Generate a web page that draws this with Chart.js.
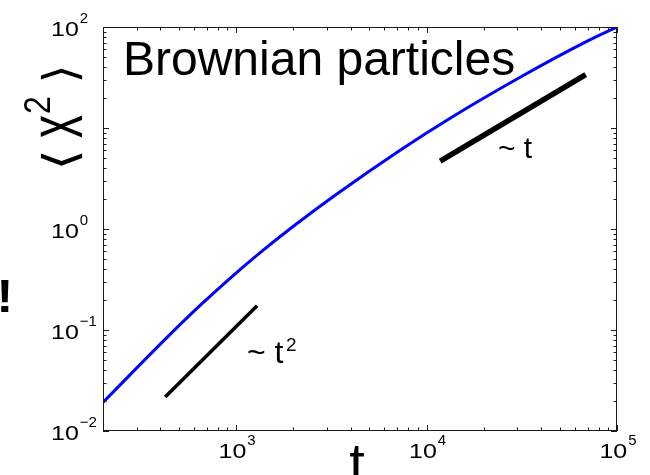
<!DOCTYPE html>
<html>
<head>
<meta charset="utf-8">
<script src="https://cdn.jsdelivr.net/npm/chart.js@4.4.1/dist/chart.umd.min.js"></script>
<style>
    html, body { margin: 0; padding: 0; background: #fff; }
    #wrap { width: 650px; height: 475px; position: relative; }
</style>
</head>
<body>
<div id="wrap"><canvas id="chart"></canvas></div>
<script>
// ==================== 数据 ====================
const timeValues = [200, 434, 647, 929, 1304, 1967, 3310, 7265, 13300, 31000, 69800, 100000]
const msdValues = [0.0192, 0.0845, 0.175, 0.325, 0.561, 1.04, 2.16, 6.03, 12.5, 31.8, 72.4, 100]

// 参考斜率线
const ballisticTime = [424, 1289]
const ballisticMsd = [0.0217, 0.1734]
const diffusiveTime = [11800, 68500]
const diffusiveMsd = [4.69, 33.7]

const xRange = [200, 1e5]
const yRange = [1e-2, 1e2]
const xTickExps = ['3', '4', '5']
const yTickExps = ['\u22122', '\u22121', '0', '2']

const titleText = 'Brownian particles'
const FONT = '"Liberation Sans", Arial, Helvetica, sans-serif'

const toPoints = (xs, ys) => xs.map((x, i) => ({ x, y: ys[i] }))

// 对数刻度：1..9 × 10^n
const logTicks = (scale) => {
    const ticks = []
    const lo = Math.floor(Math.log10(scale.min))
    const hi = Math.ceil(Math.log10(scale.max))
    for (let d = lo; d <= hi; d++) {
        for (let m = 1; m <= 9; m++) {
            const v = m * Math.pow(10, d)
            if (v >= scale.min * 0.999 && v <= scale.max * 1.001) ticks.push({ value: v, major: m === 1, exp: d })
        }
    }
    return ticks
}

// 把字形的墨迹放进指定框（可旋转 -90°）
const fitGlyph = (ctx, text, font, box, rotated) => {
    ctx.save()
    ctx.font = font
    ctx.textBaseline = 'alphabetic'
    ctx.textAlign = 'left'
    const m = ctx.measureText(text)
    const L = m.actualBoundingBoxLeft, R = m.actualBoundingBoxRight
    const asc = m.actualBoundingBoxAscent, desc = m.actualBoundingBoxDescent
    if (rotated) {
        const sA = (box.y1 - box.y0) / (L + R)
        const sP = (box.x1 - box.x0) / (asc + desc)
        ctx.translate(box.x0 + asc * sP, box.y1 - L * sA)
        ctx.rotate(-Math.PI / 2)
        ctx.scale(sA, sP)
    } else {
        const sx = (box.x1 - box.x0) / (L + R)
        const sy = (box.y1 - box.y0) / (asc + desc)
        ctx.translate(box.x0 + L * sx, box.y0 + asc * sy)
        ctx.scale(sx, sy)
    }
    ctx.fillText(text, 0, 0)
    ctx.restore()
}

// "10" + 上标
const drawPower = (ctx, exp, x, y, align) => {
    const sx = 1.25
    ctx.font = '20px ' + FONT
    const w10 = ctx.measureText('10').width * sx
    ctx.font = '15px ' + FONT
    const ws = ctx.measureText(exp).width
    const total = w10 + 1 + ws
    const start = align === 'center' ? x - total / 2 : x
    ctx.save()
    ctx.translate(start, y)
    ctx.scale(sx, 1)
    ctx.font = '20px ' + FONT
    ctx.fillText('10', 0, 0)
    ctx.restore()
    ctx.font = '15px ' + FONT
    ctx.fillText(exp, start + w10 + 1, y - 13)
}

// ==================== 坐标框 / 刻度 / 文字 ====================
const axesBox = {
    id: 'axesBox',
    afterDatasetsDraw(chart) {
        const { ctx, chartArea: a, scales } = chart
        const line = (x1, y1, x2, y2) => {
            ctx.beginPath(); ctx.moveTo(x1, y1); ctx.lineTo(x2, y2); ctx.stroke()
        }
        ctx.save()
        ctx.strokeStyle = '#1a1a1a'
        ctx.lineWidth = 1
        ctx.strokeRect(a.left + 0.5, a.top + 0.5, a.right - a.left - 1, a.bottom - a.top - 1)

        logTicks(scales.x).forEach(t => {
            const px = Math.round(scales.x.getPixelForValue(t.value)) + 0.5
            const len = t.major ? 6 : 3.5
            line(px, a.bottom, px, a.bottom - len)
            line(px, a.top, px, a.top + len)
        })
        logTicks(scales.y).forEach(t => {
            const py = Math.round(scales.y.getPixelForValue(t.value)) + 0.5
            const len = t.major ? 6 : 3.5
            line(a.left, py, a.left + len, py)
            line(a.right, py, a.right - len, py)
        })

        ctx.fillStyle = '#000'
        ctx.textBaseline = 'alphabetic'
        ctx.textAlign = 'left'
        logTicks(scales.x).filter(t => t.major).forEach(t => {
            const exp = String(t.exp)
            if (xTickExps.includes(exp)) drawPower(ctx, exp, scales.x.getPixelForValue(t.value) + 1, a.bottom + 27, 'center')
        })
        logTicks(scales.y).filter(t => t.major).forEach(t => {
            const exp = t.exp < 0 ? '\u2212' + Math.abs(t.exp) : String(t.exp)
            if (yTickExps.includes(exp)) drawPower(ctx, exp, 51, scales.y.getPixelForValue(t.value) + 9, 'left')
        })

        // 标题
        ctx.font = '48px ' + FONT
        ctx.fillText(titleText, 123, 75)

        // 斜率标注
        ctx.font = '32px ' + FONT
        ctx.fillText('~ t', 247, 363)
        ctx.font = '19px ' + FONT
        ctx.fillText('2', 286, 351)
        ctx.font = '30px ' + FONT
        ctx.fillText('~ t', 498, 158)

        // x 轴标签
        ctx.font = '56px ' + FONT
        ctx.textAlign = 'center'
        ctx.fillText('t', 357, 482)

        // y 轴标签 ⟨x²⟩
        fitGlyph(ctx, '\u27E8', '44px "DejaVu Sans"', { x0: 40, x1: 82, y0: 153, y1: 167 }, true)
        fitGlyph(ctx, 'x', '44px ' + FONT, { x0: 40, x1: 82, y0: 115, y1: 138 }, true)
        fitGlyph(ctx, '2', '30px ' + FONT, { x0: 25, x1: 50, y0: 97, y1: 113 }, true)
        fitGlyph(ctx, '\u27E9', '44px "DejaVu Sans"', { x0: 40, x1: 82, y0: 68, y1: 80 }, true)

        // 左侧残缺字符
        fitGlyph(ctx, '!', 'bold 44px ' + FONT, { x0: 1, x1: 9, y0: 280, y1: 312 }, false)
        ctx.restore()
    }
}

// ==================== 图表 ====================
new Chart(document.getElementById('chart'), {
    type: 'line',
    data: {
        datasets: [
            {
                label: 'msd',
                data: toPoints(timeValues, msdValues),
                borderColor: '#0000ff',
                borderWidth: 3,
                pointRadius: 0,
                cubicInterpolationMode: 'monotone',
                fill: false
            },
            {
                label: '~t^2',
                data: toPoints(ballisticTime, ballisticMsd),
                borderColor: '#000',
                borderWidth: 3.5,
                pointRadius: 0,
                fill: false
            },
            {
                label: '~t',
                data: toPoints(diffusiveTime, diffusiveMsd),
                borderColor: '#000',
                borderWidth: 5.5,
                pointRadius: 0,
                fill: false
            }
        ]
    },
    options: {
        responsive: true,
        maintainAspectRatio: false,
        animation: false,
        layout: { padding: { left: 103, top: 27, right: 33, bottom: 44 } },
        plugins: {
            legend: { display: false },
            tooltip: { enabled: false }
        },
        scales: {
            x: { type: 'logarithmic', min: xRange[0], max: xRange[1], display: false },
            y: { type: 'logarithmic', min: yRange[0], max: yRange[1], display: false }
        }
    },
    plugins: [axesBox]
})
</script>
</body>
</html>
